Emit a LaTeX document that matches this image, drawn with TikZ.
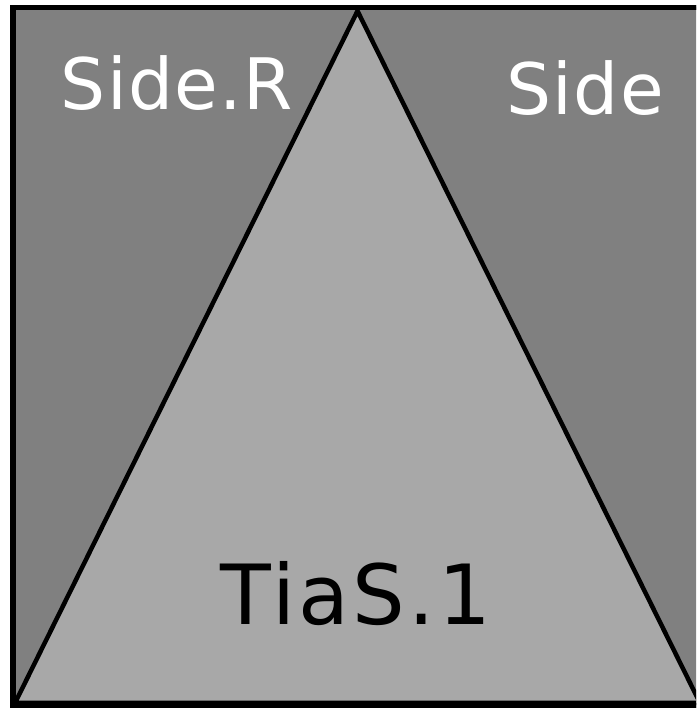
\documentclass[tikz,border=0pt]{standalone}
\usepackage{fontspec}
\setmainfont{DejaVu Sans}
\definecolor{darkfill}{RGB}{128,128,128}
\definecolor{lightfill}{RGB}{168,168,168}
\begin{document}
\begin{tikzpicture}[x=1pt,y=1pt,
  outline/.style={draw=black,line width=5.5pt},
  triline/.style={draw=black,line width=4.5pt,line join=miter},
  whitelabel/.style={text=white,font=\fontsize{71}{71}\selectfont\addfontfeature{LetterSpace=2},anchor=base,inner sep=0pt},
  blacklabel/.style={text=black,font=\fontsize{83}{83}\selectfont\addfontfeature{LetterSpace=4},anchor=base,inner sep=0pt}]
\useasboundingbox (0,0) rectangle (696,708);
\clip (0,0) rectangle (696,708);
\fill[white] (0,0) rectangle (696,708);
\coordinate (sqSW) at (13,2.5);
\coordinate (sqNE) at (703,700.5);
\coordinate (triL) at (15,5);
\coordinate (triT) at (357.5,697);
\coordinate (triR) at (700,5);
\path[fill=darkfill,outline] (sqSW) rectangle (sqNE);
\path[fill=lightfill,triline] (triL) -- (triT) -- (triR) -- cycle;
\draw[outline] (sqSW) rectangle (sqNE);
\node[whitelabel] (sideR) at (177,598) {Side.R};
\node[whitelabel] (side) at (585,593) {Side};
\node[blacklabel] (tias) at (356,83) {TiaS.1};
\end{tikzpicture}
\end{document}
